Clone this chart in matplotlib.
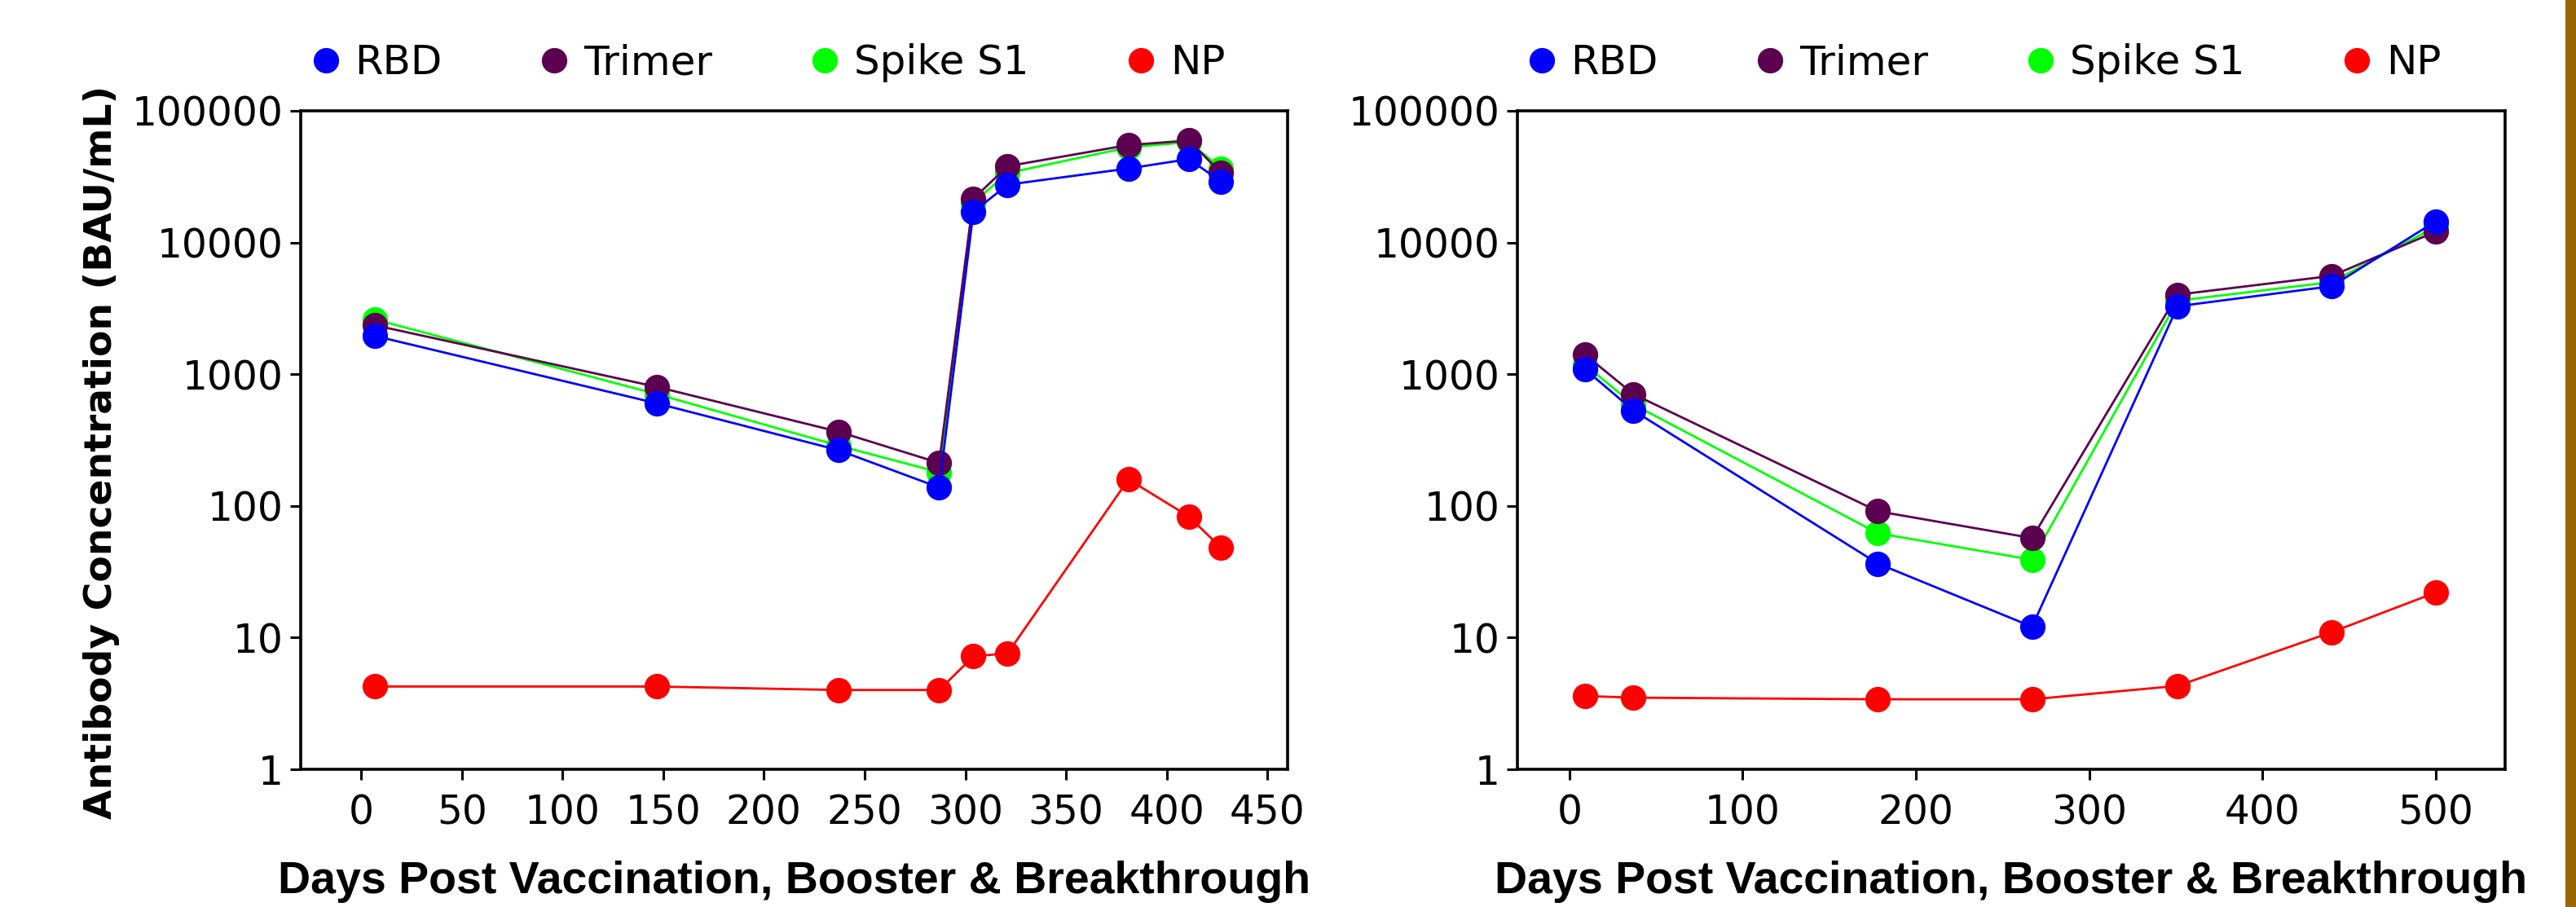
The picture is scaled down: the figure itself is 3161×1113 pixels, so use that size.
import matplotlib
matplotlib.use("Agg")
import matplotlib.pyplot as plt
from matplotlib.lines import Line2D
from matplotlib.patches import Rectangle
from matplotlib.ticker import FixedLocator, FixedFormatter, NullLocator

# ---- data ----
series_names = ["RBD", "Trimer", "Spike S1", "NP"]
series_colors = ["#0000ff", "#5c0050", "#00ff00", "#ff0000"]

# left panel
days_left = [7, 147, 237, 287, 304, 321, 381, 411, 427]
rbd_left = [1950, 600, 265, 138, 17100, 27500, 36500, 43000, 29000]
trimer_left = [2350, 800, 366, 212, 21500, 38000, 55000, 59500, 33700]
spike_left = [2600, 705, 287, 180, 20100, 33700, 52800, 58000, 36600]
np_left = [4.25, 4.25, 4.0, 4.0, 7.2, 7.6, 159, 83, 48]

# right panel
days_right = [9, 37, 178, 267, 351, 440, 500]
rbd_right = [1090, 530, 36.5, 12.1, 3280, 4660, 14500]
trimer_right = [1410, 705, 91, 57, 4020, 5580, 12100]
spike_right = [1180, 589, 62, 39, 3615, 5010, 13150]
np_right = [3.6, 3.5, 3.4, 3.4, 4.3, 11, 22]

y_ticks = [1, 10, 100, 1000, 10000, 100000]
x_ticks_left = [0, 50, 100, 150, 200, 250, 300, 350, 400, 450]
x_ticks_right = [0, 100, 200, 300, 400, 500]
x_label = "Days Post Vaccination, Booster & Breakthrough"
y_label = "Antibody Concentration (BAU/mL)"

W, H, DPI = 3161, 1113, 100
fig = plt.figure(figsize=(W / DPI, H / DPI), dpi=DPI)
fig.patch.set_facecolor("white")

ax_l = fig.add_axes([369 / W, 1 - 944 / H, (1580 - 369) / W, (944 - 136) / H])
ax_r = fig.add_axes([1862 / W, 1 - 944 / H, (3074 - 1862) / W, (944 - 136) / H])

# draw order: green under purple under blue, red separate
order = [2, 1, 0, 3]


def draw_panel(ax, days, values, xlim, xticks):
    for z, k in enumerate(order):
        ax.plot(days, values[k], color=series_colors[k], lw=2.0,
                marker="o", ms=22.5, mew=0, zorder=3 + z)
    ax.set_yscale("log")
    ax.set_ylim(1, 100000)
    ax.set_xlim(*xlim)
    ax.yaxis.set_major_locator(FixedLocator(y_ticks))
    ax.yaxis.set_major_formatter(FixedFormatter([str(t) for t in y_ticks]))
    ax.yaxis.set_minor_locator(NullLocator())
    ax.set_xticks(xticks)
    ax.set_xticklabels([str(t) for t in xticks])
    for sp in ax.spines.values():
        sp.set_linewidth(2.6)
        sp.set_color("black")
    ax.tick_params(axis="both", which="major", direction="out", length=9.5,
                   width=2.2, labelsize=35, color="black")
    ax.tick_params(axis="x", pad=12)
    ax.tick_params(axis="y", pad=6)
    for lab in ax.get_xticklabels() + ax.get_yticklabels():
        lab.set_family("DejaVu Sans")
    # x label
    ax.text(0.5, -0.1875, x_label, transform=ax.transAxes, ha="center",
            va="baseline", fontsize=40, fontweight="bold",
            family="Liberation Sans")


draw_panel(ax_l, days_left, [rbd_left, trimer_left, spike_left, np_left],
           (-30, 460), x_ticks_left)
draw_panel(ax_r, days_right, [rbd_right, trimer_right, spike_right, np_right],
           (-30, 540), x_ticks_right)

fig.text(125 / W, 1 - 555 / H, y_label, rotation=90, ha="center", va="center",
         fontsize=34, fontweight="bold", family="DejaVu Sans")

# legends
handles = [Line2D([], [], ls="none", marker="o", ms=22.5, mew=0, color=c)
           for c in series_colors]
for cx in (944 / W, 2436 / W):
    fig.legend(handles, series_names, loc="center", bbox_to_anchor=(cx, 1 - 77 / H),
               ncol=4, frameon=False, handlelength=0.6,
               handletextpad=0.42, columnspacing=2.45, borderpad=0,
               prop={"family": "DejaVu Sans", "size": 36})

# golden strip at the right edge
fig.patches.append(Rectangle((3148 / W, 0), 13 / W, 1, transform=fig.transFigure,
                             facecolor="#996600", edgecolor="none"))

fig.savefig("out.png", dpi=DPI)
